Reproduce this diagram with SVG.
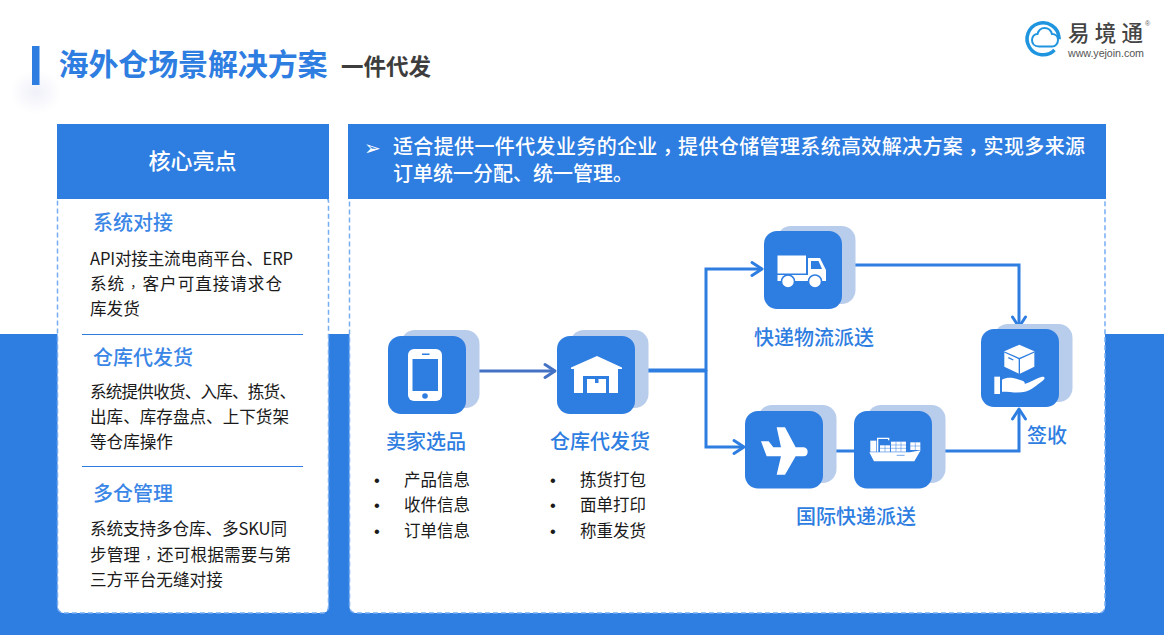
<svg xmlns="http://www.w3.org/2000/svg" width="1164" height="635" viewBox="0 0 1164 635">
<style>
text{font-family:"Noto Sans CJK SC","Noto Sans",sans-serif}
.hd{fill:#2e7de1}
.panel{fill:#fff;stroke:#77adf2;stroke-width:1.5;stroke-dasharray:5 3}
.h2{font-size:20px;font-weight:500;fill:#3a86e6}
.lb{font-size:20px;font-weight:500;fill:#2e7de1}
.bd{font-size:16.6px;fill:#1a1a1a}
.li{font-size:16.5px;fill:#1a1a1a}
.bu{font-size:16.5px;fill:#1a1a1a;font-family:"Liberation Sans",sans-serif}
.wh{font-size:20px;font-weight:500;fill:#fff}
.tc{font-family:"Noto Sans CJK TC",sans-serif}
.cm{font-family:"Noto Sans CJK TC",sans-serif;font-size:12.5px}
.bk{fill:#b8ccec}
.fr{fill:#2e7de1}
.ic{fill:#fff}
.cut{fill:#2e7de1}
.line{fill:none;stroke:#2e7de1;stroke-width:3}
.tip{fill:none;stroke:#2e7de1;stroke-width:3;stroke-linecap:round;stroke-linejoin:round}
</style>
<defs>
<radialGradient id="glow"><stop offset="0" stop-color="#f0f1f9"/><stop offset="1" stop-color="#fff"/></radialGradient>
</defs>
<rect width="1164" height="635" fill="#fff"/>
<rect y="334" width="1164" height="301" fill="#2e7de1"/>
<g id="title">
<ellipse cx="36" cy="92" rx="26" ry="22" fill="url(#glow)"/>
<rect x="32" y="46" width="7.500" height="39" fill="#2e7de1"/>
<text x="58.500" y="75" font-size="30" font-weight="700" fill="#2e7de1" textLength="269">海外仓场景解决方案</text>
<text x="341" y="75" font-size="22.500" font-weight="700" fill="#3d3d3d" textLength="90">一件代发</text>
</g>
<g id="logo">
<path d="M1054.500 50A16 16 0 1 1 1059 37.500H1036" fill="none" stroke="#1f95e0" stroke-width="3.500"/>
<path d="M1039 46.500c-5 0-7-3.500-7-6.500c0-3.500 2.500-6 5.500-6c1-3.500 3.500-6 7-6c4 0 6.500 2.500 7.500 6c3.500 0 6 2.500 6 6c0 3.500-2.500 6.500-6 6.500z" fill="#fff" stroke="#1f95e0" stroke-width="2"/>
<text x="1068" y="40.500" font-size="21.500" font-weight="500" fill="#444" textLength="75">易境通</text>
<text x="1068" y="56.500" font-size="10.700" fill="#555" style="font-family:'Liberation Sans',sans-serif" textLength="76">www.yejoin.com</text>
<text x="1145" y="26" font-size="7" fill="#666" style="font-family:'Liberation Sans',sans-serif">®</text>
</g>
<g id="highlights">
<rect class="panel" x="57.500" y="196" width="271" height="417" rx="6"/>
<rect class="hd" x="57" y="124" width="272" height="75"/>
<text x="192.500" y="169" font-size="22" font-weight="500" fill="#fff" text-anchor="middle">核心亮点</text>
<text class="h2" x="93" y="230">系统对接</text>
<text class="bd" x="90" y="265" textLength="203">API对接主流电商平台、ERP</text>
<text class="bd" x="90" y="290" textLength="192">系统<tspan class="cm" dx="2" dy="1.500">，</tspan><tspan dx="2" dy="-1.500">客</tspan>户可直接请求仓</text>
<text class="bd" x="90" y="315">库发货</text>
<rect x="82" y="334" width="221" height="1" fill="#2e7de1"/>
<text class="h2" x="93" y="365">仓库代发货</text>
<text class="bd" x="90" y="398" textLength="206">系统提供收货、入库、拣货、</text>
<text class="bd" x="90" y="423" textLength="199">出库、库存盘点、上下货架</text>
<text class="bd" x="90" y="448">等仓库操作</text>
<rect x="82" y="466" width="221" height="1" fill="#2e7de1"/>
<text class="h2" x="93" y="501">多仓管理</text>
<text class="bd" x="90" y="535" textLength="197">系统支持多仓库、多SKU同</text>
<text class="bd" x="90" y="561" textLength="201">步管理<tspan class="cm" dx="2" dy="1.500">，</tspan><tspan dx="2" dy="-1.500">还</tspan>可根据需要与第</text>
<text class="bd" x="90" y="586">三方平台无缝对接</text>
</g>
<g id="flow-panel">
<rect class="panel" x="349.500" y="196" width="755.500" height="417" rx="6"/>
<rect class="hd" x="348" y="124" width="758" height="75"/>
<text x="364" y="155" font-size="20" fill="#fff" style="font-family:'DejaVu Sans',sans-serif">➢</text>
<text class="wh" x="393" y="154" textLength="692">适合提供一件代发业务的企业<tspan class="tc" dy="6">，</tspan><tspan dy="-6">提</tspan>供仓储管理系统高效解决方案<tspan class="tc" dy="6">，</tspan><tspan dy="-6">实</tspan>现多来源</text>
<text class="wh" x="393" y="181">订单统一分配、统一管理。</text>
</g>
<g id="connectors">
<path d="M478 371H554" fill="none" stroke="#4472c4" stroke-width="3"/>
<path d="M545 364.500L555 371L545 377.500" fill="none" stroke="#4472c4" stroke-width="3" stroke-linecap="round" stroke-linejoin="round"/>
<path d="M648 370.500H706" fill="none" stroke="#2e7de1" stroke-width="4"/>
<path class="line" d="M706 371V269H762"/>
<path class="tip" d="M752 262.500L762 269L752 275.500"/>
<path class="line" d="M706 370V447H744"/>
<path class="tip" d="M734 440.500L744 447L734 453.500"/>
<path class="line" d="M855 265H1019V327"/>
<path class="tip" d="M1012.500 317L1019 327L1025.500 317"/>
<path class="line" d="M836 451H854"/>
<path class="line" d="M945 451H1019V409"/>
<path class="tip" d="M1012.500 419L1019 409L1025.500 419"/>
</g>
<g id="seller">
<rect class="bk" x="401" y="330" width="78.500" height="78" rx="14"/>
<rect class="fr" x="388" y="336" width="78" height="78" rx="13"/>
<rect class="ic" x="408" y="349" width="34" height="52" rx="6"/>
<rect class="cut" x="412.500" y="359" width="25.500" height="32"/>
<rect class="cut" x="422" y="353.500" width="7.500" height="1.500"/>
<circle class="cut" cx="425" cy="396" r="2.800"/>
<text class="lb" x="386" y="449">卖家选品</text>
<text class="bu" x="374" y="486">•</text>
<text class="li" x="404" y="486">产品信息</text>
<text class="bu" x="374" y="511">•</text>
<text class="li" x="404" y="511">收件信息</text>
<text class="bu" x="374" y="537">•</text>
<text class="li" x="404" y="537">订单信息</text>
</g>
<g id="warehouse">
<rect class="bk" x="570" y="330" width="78.500" height="78" rx="14"/>
<rect class="fr" x="557" y="336" width="78" height="78" rx="13"/>
<path class="ic" d="M597 356L622 367.500V369H618V393H574V369H571V367.500Z"/>
<rect class="cut" x="583" y="376" width="26" height="17"/>
<rect class="ic" x="587" y="379" width="19" height="14"/>
<rect class="cut" x="595" y="379" width="3.500" height="4"/>
<text class="lb" x="550" y="449">仓库代发货</text>
<text class="bu" x="550" y="486">•</text>
<text class="li" x="580" y="486">拣货打包</text>
<text class="bu" x="550" y="511">•</text>
<text class="li" x="580" y="511">面单打印</text>
<text class="bu" x="550" y="537">•</text>
<text class="li" x="580" y="537">称重发货</text>
</g>
<g id="express">
<rect class="bk" x="777" y="226" width="78.500" height="78" rx="14"/>
<rect class="fr" x="764" y="231" width="78" height="78" rx="13"/>
<rect class="ic" x="777.500" y="255.500" width="28.500" height="18"/>
<path class="ic" d="M808 258H820L826 270V281H777.500V275H808Z"/>
<path class="cut" d="M811 261H818.500L822 269H811Z"/>
<circle class="ic" cx="788" cy="281.500" r="6.500" stroke="#2e7de1" stroke-width="1.500"/>
<circle class="ic" cx="815" cy="281.500" r="6.500" stroke="#2e7de1" stroke-width="1.500"/>
<text class="lb" x="754" y="345">快递物流派送</text>
</g>
<g id="air">
<rect class="bk" x="758" y="405" width="78.500" height="78" rx="14"/>
<rect class="fr" x="745" y="411" width="78" height="77.500" rx="13"/>
<path class="ic" transform="translate(730 395) scale(.3333)" d="M93 139H116L130 157H153L140 97H165L197 157H221C229 157 233 164 233 170C233 177 229 184 221 184H197L165 239H140L153 184H110Z"/>
<text class="lb" x="796" y="524">国际快递派送</text>
</g>
<g id="ship">
<rect class="bk" x="867" y="405" width="78.500" height="78" rx="14"/>
<rect class="fr" x="854" y="411" width="78" height="77.500" rx="13"/>
<g transform="translate(730 395) scale(.3333)">
<path class="ic" d="M418 172H540L572 166L553 199H432Z"/>
<rect class="ic" x="421" y="137" width="18" height="33"/>
<path class="ic" d="M441 128H478V136H474V132H445V170H441Z"/>
<rect class="ic" x="450" y="151" width="30" height="19"/>
<rect class="ic" x="483" y="140" width="45" height="30"/>
<rect class="ic" x="541" y="142" width="30" height="23"/>
<path fill="none" stroke="#2e7de1" stroke-width="1.500" d="M450 160H480M465 151V170M483 150H528M483 160H528M498 140V170M513 140V170M541 153H571M556 142V165"/>
<path fill="none" stroke="#2e7de1" stroke-width="2" d="M500 181H524"/>
</g>
</g>
<g id="signed">
<rect class="bk" x="994" y="324" width="78.500" height="78" rx="14"/>
<rect class="fr" x="981" y="329" width="78" height="78" rx="13"/>
<g transform="translate(950 310) scale(.3333)">
<path class="ic" d="M208 104L253 124V170L208 192L163 170V124Z"/>
<path fill="none" stroke="#2e7de1" stroke-width="4" d="M163 126L208 146L253 126M208 146V192M175 143L190 150"/>
<rect class="ic" x="133" y="200" width="17" height="52"/>
<path class="ic" d="M156 209C175 199 195 205 208 209C222 212 226 216 224 222L240 216C255 208 270 200 280 200C286 201 284 208 278 212C260 225 245 240 225 245C205 250 180 245 156 245Z"/>
</g>
<text class="lb" x="1027" y="443">签收</text>
</g>
</svg>
